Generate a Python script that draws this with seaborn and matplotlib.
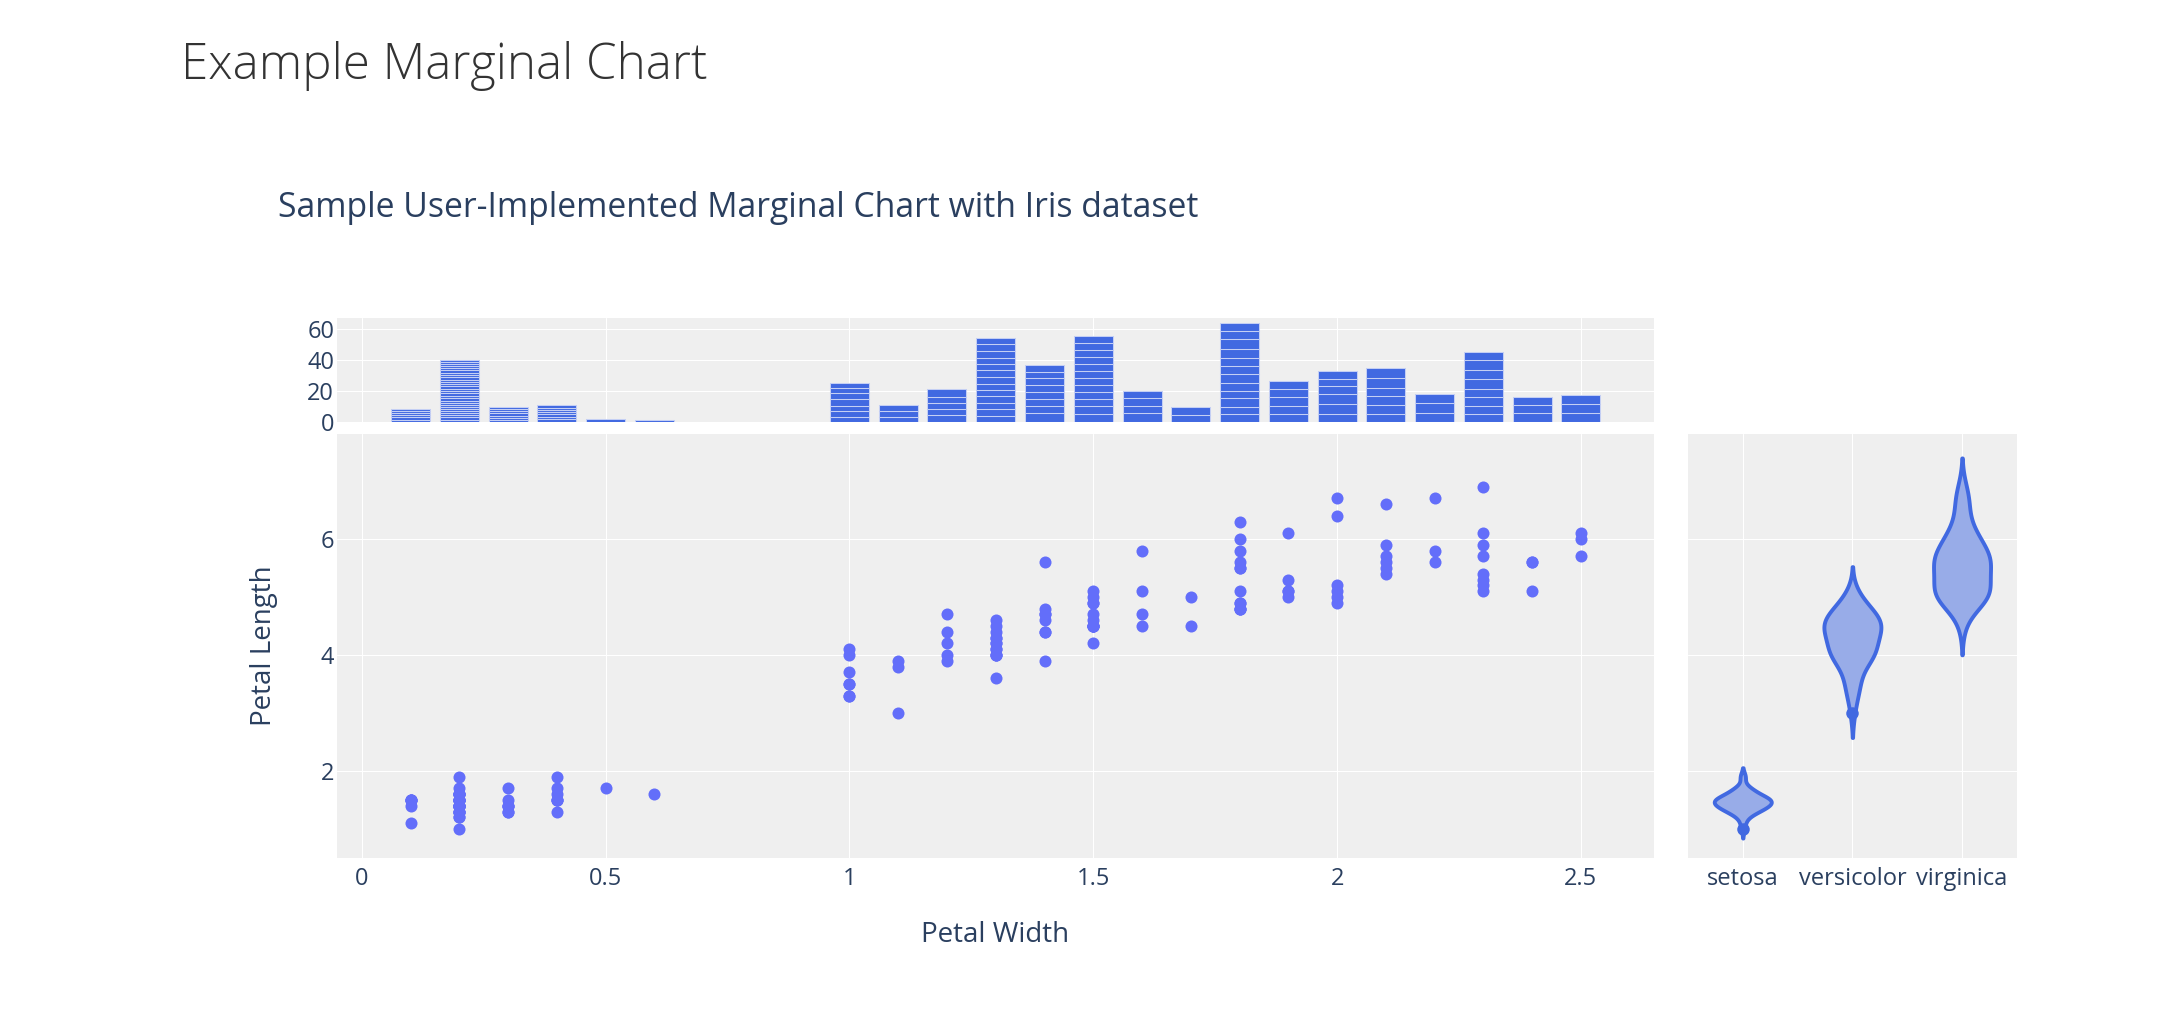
import numpy as np
import pandas as pd
import matplotlib
matplotlib.use("Agg")
import matplotlib.pyplot as plt
import seaborn as sns

# iris petal measurements, one list per species
species_names = ["setosa", "versicolor", "virginica"]

setosa_width = [0.2, 0.2, 0.2, 0.2, 0.2, 0.4, 0.3, 0.2, 0.2, 0.1,
                0.2, 0.2, 0.1, 0.1, 0.2, 0.4, 0.4, 0.3, 0.3, 0.3,
                0.2, 0.4, 0.2, 0.5, 0.2, 0.2, 0.4, 0.2, 0.2, 0.2,
                0.2, 0.4, 0.1, 0.2, 0.1, 0.2, 0.2, 0.1, 0.2, 0.2,
                0.3, 0.3, 0.2, 0.6, 0.4, 0.3, 0.2, 0.2, 0.2, 0.2]
setosa_length = [1.4, 1.4, 1.3, 1.5, 1.4, 1.7, 1.4, 1.5, 1.4, 1.5,
                 1.5, 1.6, 1.4, 1.1, 1.2, 1.5, 1.3, 1.4, 1.7, 1.5,
                 1.7, 1.5, 1.0, 1.7, 1.9, 1.6, 1.6, 1.5, 1.4, 1.6,
                 1.6, 1.5, 1.5, 1.4, 1.5, 1.2, 1.3, 1.5, 1.3, 1.5,
                 1.3, 1.3, 1.3, 1.6, 1.9, 1.4, 1.6, 1.4, 1.5, 1.4]

versicolor_width = [1.4, 1.5, 1.5, 1.3, 1.5, 1.3, 1.6, 1.0, 1.3, 1.4,
                    1.0, 1.5, 1.0, 1.4, 1.3, 1.4, 1.5, 1.0, 1.5, 1.1,
                    1.8, 1.3, 1.5, 1.2, 1.3, 1.4, 1.4, 1.7, 1.5, 1.0,
                    1.1, 1.0, 1.2, 1.6, 1.5, 1.6, 1.5, 1.3, 1.3, 1.3,
                    1.2, 1.4, 1.2, 1.0, 1.3, 1.2, 1.3, 1.3, 1.1, 1.3]
versicolor_length = [4.7, 4.5, 4.9, 4.0, 4.6, 4.5, 4.7, 3.3, 4.6, 3.9,
                     3.5, 4.2, 4.0, 4.7, 3.6, 4.4, 4.5, 4.1, 4.5, 3.9,
                     4.8, 4.0, 4.9, 4.7, 4.3, 4.4, 4.8, 5.0, 4.5, 3.5,
                     3.8, 3.7, 3.9, 5.1, 4.5, 4.5, 4.7, 4.4, 4.1, 4.0,
                     4.4, 4.6, 4.0, 3.3, 4.2, 4.2, 4.2, 4.3, 3.0, 4.1]

virginica_width = [2.5, 1.9, 2.1, 1.8, 2.2, 2.1, 1.7, 1.8, 1.8, 2.5,
                   2.0, 1.9, 2.1, 2.0, 2.4, 2.3, 1.8, 2.2, 2.3, 1.5,
                   2.3, 2.0, 2.0, 1.8, 2.1, 1.8, 1.8, 1.8, 2.1, 1.6,
                   1.9, 2.0, 2.2, 1.5, 1.4, 2.3, 2.4, 1.8, 1.8, 2.1,
                   2.4, 2.3, 1.9, 2.3, 2.5, 2.3, 1.9, 2.0, 2.3, 1.8]
virginica_length = [6.0, 5.1, 5.9, 5.6, 5.8, 6.6, 4.5, 6.3, 5.8, 6.1,
                    5.1, 5.3, 5.5, 5.0, 5.1, 5.3, 5.5, 6.7, 6.9, 5.0,
                    5.7, 4.9, 6.7, 4.9, 5.7, 6.0, 4.8, 4.9, 5.6, 5.8,
                    6.1, 6.4, 5.6, 5.1, 5.6, 6.1, 5.6, 5.5, 4.8, 5.4,
                    5.6, 5.1, 5.1, 5.9, 5.7, 5.2, 5.0, 5.2, 5.4, 5.1]

# points the violins flag as outliers
outlier_species = ["setosa", "versicolor"]
outlier_length = [1.0, 3.0]

x_ticks = [0, 0.5, 1, 1.5, 2, 2.5]
x_ticklabels = ["0", "0.5", "1", "1.5", "2", "2.5"]
y_ticks = [2, 4, 6]
hist_ticks = [0, 20, 40, 60]

df = pd.DataFrame({
    "Petal Width": setosa_width + versicolor_width + virginica_width,
    "Petal Length": setosa_length + versicolor_length + virginica_length,
    "species": (["setosa"] * len(setosa_width) + ["versicolor"] * len(versicolor_width)
                + ["virginica"] * len(virginica_width)),
})
df["row"] = ["r%d" % i for i in range(len(df))]

TEXT = "#2a3f5f"
BLUE = "#4169E1"
DOT = "#636EFA"
VIOLIN_FILL = "#98ACE8"

sns.set_style("darkgrid", {
    "axes.facecolor": "#EFEFEF",
    "grid.color": "white",
    "grid.linewidth": 1.6,
    "axes.edgecolor": "#EFEFEF",
})
plt.rcParams["font.family"] = ["Open Sans", "DejaVu Sans"]

fig = plt.figure(figsize=(21.71, 10.19), dpi=100)
ax_hist = fig.add_axes([0.1552, 0.5859, 0.6067, 0.1021])
ax_main = fig.add_axes([0.1552, 0.158, 0.6067, 0.4161])
ax_vio = fig.add_axes([0.7775, 0.158, 0.1515, 0.4161])

# top marginal: summed petal length per width bin, one stacked segment per flower
sns.histplot(data=df, x="Petal Width", weights="Petal Length", hue="row",
             multiple="stack", binwidth=0.1, binrange=(0.05, 2.55), shrink=0.8,
             palette=[BLUE] * len(df), edgecolor="#C4CFF4", linewidth=0.75,
             alpha=1, legend=False, ax=ax_hist)
for p in list(ax_hist.patches):
    if p.get_height() == 0:
        p.remove()

sns.scatterplot(data=df, x="Petal Width", y="Petal Length", color=DOT,
                s=75, linewidth=0, ax=ax_main)

sns.violinplot(data=df, x="species", y="Petal Length", order=species_names,
               inner=None, cut=2, bw_method=0.45, density_norm="width",
               width=0.52, color=VIOLIN_FILL, linecolor=BLUE, linewidth=2.8,
               saturation=1, ax=ax_vio)
sns.stripplot(x=outlier_species, y=outlier_length, order=species_names,
              jitter=False, color=BLUE, size=9, linewidth=0, ax=ax_vio)

ax_main.set_xlim(-0.051, 2.65)
ax_hist.set_xlim(-0.051, 2.65)
ax_main.set_ylim(0.5, 7.81)
ax_vio.set_ylim(0.5, 7.81)
ax_vio.set_xlim(-0.5, 2.5)
ax_hist.set_ylim(0, 67.5)

ax_main.set_xticks(x_ticks)
ax_main.set_xticklabels(x_ticklabels)
ax_main.set_yticks(y_ticks)
ax_hist.set_xticks(x_ticks)
ax_hist.set_xticklabels([])
ax_hist.set_yticks(hist_ticks)
ax_vio.set_yticks(y_ticks)
ax_vio.set_yticklabels([])
ax_vio.xaxis.grid(True)

for ax in (ax_hist, ax_main, ax_vio):
    ax.tick_params(axis="both", length=0, labelsize=17, labelcolor=TEXT)
    ax.tick_params(axis="x", pad=6.5)
    ax.tick_params(axis="y", pad=2)
    ax.set_axisbelow(True)
    for s in ax.spines.values():
        s.set_visible(False)

ax_hist.set_xlabel("")
ax_hist.set_ylabel("")
ax_vio.set_xlabel("")
ax_vio.set_ylabel("")

ax_main.set_xlabel("Petal Width", fontsize=20, color=TEXT)
ax_main.xaxis.set_label_coords(0.5, -0.1816)
ax_main.xaxis.label.set_verticalalignment("center")
ax_main.set_ylabel("Petal Length", fontsize=20, color=TEXT)
ax_main.yaxis.set_label_coords(-0.055, 0.5)
ax_main.yaxis.label.set_verticalalignment("center")

fig.text(181 / 2171, 1 - 79 / 1019, "Example Marginal Chart", fontsize=35.5,
         fontweight="light", color="#333333", va="baseline")
fig.text(278 / 2171, 1 - 217 / 1019,
         "Sample User-Implemented Marginal Chart with Iris dataset",
         fontsize=24.3, color=TEXT, va="baseline")

fig.savefig("out.png", dpi=100)
